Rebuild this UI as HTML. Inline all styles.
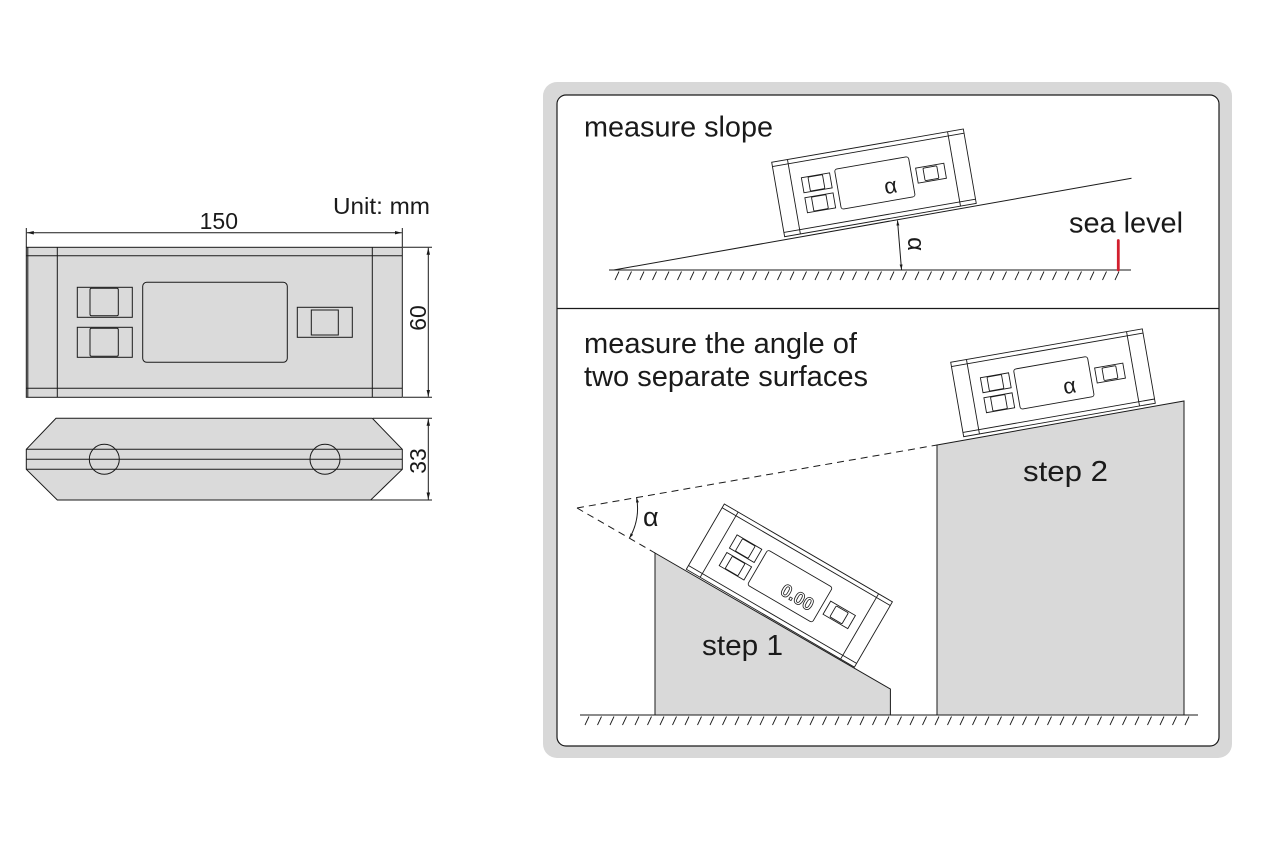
<!DOCTYPE html>
<html>
<head>
<meta charset="utf-8">
<style>
  html,body{margin:0;padding:0;background:#fff;}
  svg{display:block;}
  text{font-family:"Liberation Sans",Arial,sans-serif;fill:#1a1a1a;}
</style>
</head>
<body>
<svg width="1264" height="841" viewBox="0 0 1264 841" xmlns="http://www.w3.org/2000/svg">
  <defs>
    <marker id="ar" viewBox="0 0 10 10" refX="10" refY="5" markerWidth="7" markerHeight="7" orient="auto-start-reverse">
      <path d="M0,2.5 L10,5 L0,7.5z" fill="#1a1a1a"/>
    </marker>
    <marker id="ar2" viewBox="0 0 10 10" refX="10" refY="5" markerWidth="5" markerHeight="5" orient="auto-start-reverse">
      <path d="M0,2 L10,5 L0,8z" fill="#1a1a1a"/>
    </marker>
    <g id="dev" fill="#fff" stroke="#1a1a1a" stroke-width="0.9">
      <rect x="0" y="0" width="194.5" height="75.5"/>
      <line x1="0" y1="4.3" x2="194.5" y2="4.3"/>
      <line x1="0" y1="71.2" x2="194.5" y2="71.2"/>
      <line x1="16" y1="0" x2="16" y2="75.5"/>
      <line x1="178.5" y1="0" x2="178.5" y2="75.5"/>
      <rect x="26.6" y="20.3" width="28.6" height="15.2"/>
      <rect x="33.2" y="20.8" width="14.7" height="14.2" rx="1"/>
      <rect x="26.6" y="40.6" width="28.6" height="15.2"/>
      <rect x="33.2" y="41.1" width="14.7" height="14.2" rx="1"/>
      <rect x="60.6" y="17.7" width="75" height="40.6" rx="2.5"/>
      <rect x="140.8" y="30.4" width="28.6" height="15.2"/>
      <rect x="148" y="31.7" width="14" height="12.7" rx="1"/>
    </g>
  </defs>

  <!-- ============ LEFT DRAWING ============ -->
  <text x="333" y="214" font-size="23" textLength="97" lengthAdjust="spacingAndGlyphs">Unit: mm</text>
  <text x="218.8" y="229" font-size="23" text-anchor="middle">150</text>

  <g stroke="#1a1a1a" stroke-width="1" fill="none">
    <line x1="26.3" y1="228" x2="26.3" y2="247"/>
    <line x1="402.3" y1="228" x2="402.3" y2="247"/>
    <line x1="26.8" y1="232.7" x2="401.8" y2="232.7" marker-start="url(#ar)" marker-end="url(#ar)"/>
    <line x1="403" y1="247.3" x2="432" y2="247.3"/>
    <line x1="403" y1="397.3" x2="432" y2="397.3"/>
    <line x1="428.3" y1="247.8" x2="428.3" y2="396.8" marker-start="url(#ar)" marker-end="url(#ar)"/>
    <line x1="373" y1="418.3" x2="432" y2="418.3"/>
    <line x1="371" y1="500" x2="432" y2="500"/>
    <line x1="428.3" y1="418.8" x2="428.3" y2="499.5" marker-start="url(#ar)" marker-end="url(#ar)"/>
  </g>
  <text transform="translate(426,318) rotate(-90)" font-size="23" text-anchor="middle">60</text>
  <text transform="translate(426,461) rotate(-90)" font-size="23" text-anchor="middle">33</text>

  <g fill="#dadada" stroke="#1a1a1a" stroke-width="1">
    <rect x="26.3" y="247.3" width="376" height="150"/>
    <line x1="27.8" y1="247.3" x2="27.8" y2="397.3"/>
    <line x1="26.3" y1="255.7" x2="402.3" y2="255.7"/>
    <line x1="26.3" y1="388.3" x2="402.3" y2="388.3"/>
    <line x1="57.3" y1="247.3" x2="57.3" y2="397.3"/>
    <line x1="372.3" y1="247.3" x2="372.3" y2="397.3"/>
    <rect x="77.3" y="287.3" width="55" height="30"/>
    <rect x="90" y="288.3" width="28.3" height="27.4" rx="1.5"/>
    <rect x="77.3" y="327.3" width="55" height="30"/>
    <rect x="90" y="328.3" width="28.3" height="28" rx="1.5"/>
    <rect x="142.7" y="282.3" width="144.6" height="80" rx="4"/>
    <rect x="297.3" y="307.3" width="55" height="30"/>
    <rect x="311.3" y="310" width="27" height="25"/>
  </g>

  <g fill="#dadada" stroke="#1a1a1a" stroke-width="1">
    <polygon points="56,418.3 372.3,418.3 402.3,449.3 402.3,469.3 370.7,500 57.3,500 26.3,469.3 26.3,449.3"/>
    <line x1="26.3" y1="449.3" x2="402.3" y2="449.3"/>
    <line x1="26.3" y1="459.3" x2="402.3" y2="459.3"/>
    <line x1="26.3" y1="469.3" x2="402.3" y2="469.3"/>
    <circle cx="104.3" cy="459.3" r="15" fill="none"/>
    <circle cx="325" cy="459.3" r="15" fill="none"/>
  </g>

  <!-- ============ RIGHT PANEL ============ -->
  <rect x="543" y="82" width="689" height="676" rx="14" fill="#d8d8d8"/>
  <rect x="557" y="95" width="662" height="651" rx="9" fill="#fff" stroke="#1a1a1a" stroke-width="1.2"/>
  <line x1="557" y1="308.5" x2="1219" y2="308.5" stroke="#1a1a1a" stroke-width="1.2"/>

  <text x="584" y="136.5" font-size="29" textLength="189" lengthAdjust="spacingAndGlyphs">measure slope</text>
  <text x="1069" y="232.5" font-size="29" textLength="114" lengthAdjust="spacingAndGlyphs">sea level</text>

  <line x1="609" y1="270" x2="1131" y2="270" stroke="#1a1a1a" stroke-width="1"/>
  <g stroke="#1a1a1a" stroke-width="0.9">
    <path d="M619,271.5 L615,280 M631.5,271.5 L627.5,280 M644,271.5 L640,280 M656.5,271.5 L652.5,280 M669,271.5 L665,280 M681.5,271.5 L677.5,280 M694,271.5 L690,280 M706.5,271.5 L702.5,280 M719,271.5 L715,280 M731.5,271.5 L727.5,280 M744,271.5 L740,280 M756.5,271.5 L752.5,280 M769,271.5 L765,280 M781.5,271.5 L777.5,280 M794,271.5 L790,280 M806.5,271.5 L802.5,280 M819,271.5 L815,280 M831.5,271.5 L827.5,280 M844,271.5 L840,280 M856.5,271.5 L852.5,280 M869,271.5 L865,280 M881.5,271.5 L877.5,280 M894,271.5 L890,280 M906.5,271.5 L902.5,280 M919,271.5 L915,280 M931.5,271.5 L927.5,280 M944,271.5 L940,280 M956.5,271.5 L952.5,280 M969,271.5 L965,280 M981.5,271.5 L977.5,280 M994,271.5 L990,280 M1006.5,271.5 L1002.5,280 M1019,271.5 L1015,280 M1031.5,271.5 L1027.5,280 M1044,271.5 L1040,280 M1056.5,271.5 L1052.5,280 M1069,271.5 L1065,280 M1081.5,271.5 L1077.5,280 M1094,271.5 L1090,280 M1106.5,271.5 L1102.5,280 M1119,271.5 L1115,280"/>
  </g>
  <line x1="613.7" y1="270" x2="1131.5" y2="178.3" stroke="#1a1a1a" stroke-width="1"/>
  <line x1="1118.3" y1="240.5" x2="1118.3" y2="270" stroke="#d21f2e" stroke-width="2.8" stroke-linecap="round"/>

  <g transform="translate(771.7,162.3) rotate(-9.86)">
    <use href="#dev"/>
    <text x="113" y="51" font-size="22" text-anchor="middle">α</text>
  </g>

  <line x1="897.5" y1="220.5" x2="901.5" y2="269.5" stroke="#1a1a1a" stroke-width="1" marker-start="url(#ar2)" marker-end="url(#ar2)"/>
  <text transform="translate(908,244) rotate(90)" font-size="24" text-anchor="middle">α</text>

  <text x="584" y="353" font-size="29" textLength="273" lengthAdjust="spacingAndGlyphs">measure the angle of</text>
  <text x="584" y="386" font-size="29" textLength="284" lengthAdjust="spacingAndGlyphs">two separate surfaces</text>

  <polygon points="655,553 890.4,689 890.4,715 655,715" fill="#d9d9d9" stroke="#1a1a1a" stroke-width="1"/>
  <polygon points="937,445 1184,401 1184,715 937,715" fill="#d9d9d9" stroke="#1a1a1a" stroke-width="1"/>

  <line x1="580" y1="715" x2="1198" y2="715" stroke="#1a1a1a" stroke-width="1"/>
  <g stroke="#1a1a1a" stroke-width="0.9">
    <path d="M589,716.5 L585,725 M601.5,716.5 L597.5,725 M614,716.5 L610,725 M626.5,716.5 L622.5,725 M639,716.5 L635,725 M651.5,716.5 L647.5,725 M664,716.5 L660,725 M676.5,716.5 L672.5,725 M689,716.5 L685,725 M701.5,716.5 L697.5,725 M714,716.5 L710,725 M726.5,716.5 L722.5,725 M739,716.5 L735,725 M751.5,716.5 L747.5,725 M764,716.5 L760,725 M776.5,716.5 L772.5,725 M789,716.5 L785,725 M801.5,716.5 L797.5,725 M814,716.5 L810,725 M826.5,716.5 L822.5,725 M839,716.5 L835,725 M851.5,716.5 L847.5,725 M864,716.5 L860,725 M876.5,716.5 L872.5,725 M889,716.5 L885,725 M901.5,716.5 L897.5,725 M914,716.5 L910,725 M926.5,716.5 L922.5,725 M939,716.5 L935,725 M951.5,716.5 L947.5,725 M964,716.5 L960,725 M976.5,716.5 L972.5,725 M989,716.5 L985,725 M1001.5,716.5 L997.5,725 M1014,716.5 L1010,725 M1026.5,716.5 L1022.5,725 M1039,716.5 L1035,725 M1051.5,716.5 L1047.5,725 M1064,716.5 L1060,725 M1076.5,716.5 L1072.5,725 M1089,716.5 L1085,725 M1101.5,716.5 L1097.5,725 M1114,716.5 L1110,725 M1126.5,716.5 L1122.5,725 M1139,716.5 L1135,725 M1151.5,716.5 L1147.5,725 M1164,716.5 L1160,725 M1176.5,716.5 L1172.5,725 M1189,716.5 L1185,725"/>
  </g>

  <g stroke="#1a1a1a" stroke-width="1" stroke-dasharray="7 5" fill="none">
    <line x1="577" y1="508" x2="937" y2="445"/>
    <line x1="577" y1="508" x2="655" y2="553"/>
  </g>
  <path d="M636.6,497.6 A60.5,60.5 0 0 1 629.4,538.3" fill="none" stroke="#1a1a1a" stroke-width="1" marker-start="url(#ar2)" marker-end="url(#ar2)"/>
  <text x="643" y="526" font-size="27">α</text>

  <text x="1023" y="481" font-size="29" textLength="85" lengthAdjust="spacingAndGlyphs">step 2</text>
  <text x="702" y="655" font-size="29" textLength="81" lengthAdjust="spacingAndGlyphs">step 1</text>

  <g transform="translate(950.7,362.3) rotate(-9.9)">
    <use href="#dev"/>
    <text x="113" y="51" font-size="22" text-anchor="middle">α</text>
  </g>

  <g transform="translate(724.3,504) rotate(30.2)">
    <use href="#dev"/>
    <text x="110" y="50" font-size="18" font-weight="bold" text-anchor="middle" style="fill:#fff;stroke:#1a1a1a;stroke-width:0.8">0.00</text>
  </g>
</svg>
</body>
</html>
